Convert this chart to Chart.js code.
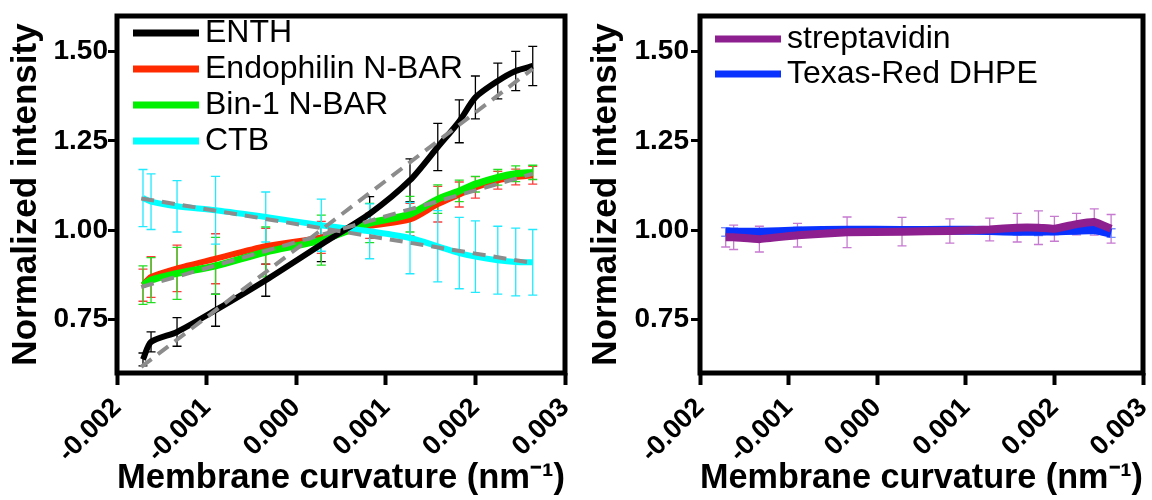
<!DOCTYPE html>
<html>
<head>
<meta charset="utf-8">
<script src="https://cdn.jsdelivr.net/npm/chart.js@4.4.0/dist/chart.umd.min.js"></script>
<style>
  body { margin: 0; background: #fff; }
  .row { display: flex; width: 1152px; height: 500px; }
  canvas { display: block; }
</style>
</head>
<body>
<div class="row">
  <canvas id="left" width="576" height="500"></canvas>
  <canvas id="right" width="576" height="500"></canvas>
</div>
<script>
// membrane curvature (nm^-1) of each measured bin
const curvature = [-0.00171, -0.00162, -0.00133, -0.00090, -0.00034, 0.00028, 0.00082,
  0.00127, 0.00158, 0.00182, 0.00200, 0.00225, 0.00245, 0.00264];

const enth = [0.638, 0.687, 0.715, 0.776, 0.860, 0.960, 1.046, 1.140, 1.233, 1.305, 1.372, 1.418, 1.446, 1.460];
const enthErr = [0.018, 0.028, 0.040, 0.045, 0.045, 0.048, 0.048, 0.060, 0.066, 0.060, 0.060, 0.050, 0.055, 0.055];

const endophilin = [0.846, 0.869, 0.893, 0.920, 0.955, 0.980, 1.012, 1.030, 1.073, 1.100, 1.120, 1.140, 1.149, 1.154];
const endophilinErr = [0.045, 0.057, 0.065, 0.070, 0.050, 0.045, 0.035, 0.045, 0.050, 0.035, 0.030, 0.025, 0.022, 0.025];

const bin1 = [0.846, 0.860, 0.879, 0.900, 0.939, 0.972, 1.020, 1.045, 1.087, 1.110, 1.129, 1.148, 1.158, 1.162];
const bin1Err = [0.054, 0.063, 0.073, 0.080, 0.070, 0.070, 0.055, 0.050, 0.040, 0.030, 0.022, 0.022, 0.022, 0.020];

const ctb = [1.090, 1.080, 1.067, 1.056, 1.037, 1.014, 0.997, 0.978, 0.955, 0.936, 0.926, 0.916, 0.911, 0.910];
const ctbErr = [0.080, 0.078, 0.072, 0.095, 0.070, 0.073, 0.077, 0.100, 0.100, 0.100, 0.100, 0.095, 0.095, 0.092];

const streptavidin = [0.980, 0.980, 0.975, 0.986, 0.994, 0.996, 0.998, 1.002, 1.007, 1.007, 1.004, 1.017, 1.023, 1.004];
const streptavidinErr = [0.027, 0.034, 0.036, 0.033, 0.043, 0.040, 0.034, 0.032, 0.040, 0.047, 0.035, 0.030, 0.037, 0.040];

const dhpe = [0.995, 0.994, 0.994, 0.998, 1.000, 0.999, 1.000, 0.999, 0.997, 0.997, 0.998, 1.000, 1.002, 0.992];
const dhpeErr = [0.012, 0.012, 0.010, 0.010, 0.010, 0.010, 0.008, 0.010, 0.010, 0.012, 0.010, 0.010, 0.012, 0.012];

// linear fits (end points)
const fitX = [-0.00173, 0.00264];
const enthFit = [0.617, 1.452];
const nbarFit = [0.841, 1.158];
const ctbFit = [1.089, 0.908];

const xTicks = [-0.002, -0.001, 0, 0.001, 0.002, 0.003];
const yTicks = [0.75, 1.0, 1.25, 1.5];

const FONT = "'Liberation Sans', Arial, sans-serif";

const pts = (xs, ys) => xs.map((x, i) => ({x, y: ys[i]}));

const series = (label, ys, err, color, errColor, width, order, tension) => ({
  label,
  data: pts(curvature, ys),
  errors: err,
  errorColor: errColor,
  borderColor: color,
  backgroundColor: color,
  borderWidth: width,
  tension,
  pointRadius: 0,
  order,
});

const fit = (ys) => ({
  label: 'fit',
  fit: true,
  data: pts(fitX, ys),
  borderColor: '#8c8c8c',
  borderWidth: 4,
  borderDash: [13, 8],
  pointRadius: 0,
  order: 0,
});

// thin error bars with caps, under the lines
const errorBars = {
  id: 'errorBars',
  beforeDatasetsDraw(chart) {
    const {ctx, scales: {x, y}} = chart;
    chart.data.datasets.forEach((ds) => {
      if (!ds.errors) return;
      ctx.save();
      ctx.strokeStyle = ds.errorColor;
      ctx.lineWidth = 1.3;
      ds.data.forEach((p, j) => {
        const px = x.getPixelForValue(p.x);
        const top = y.getPixelForValue(p.y + ds.errors[j]);
        const bot = y.getPixelForValue(p.y - ds.errors[j]);
        ctx.beginPath();
        ctx.moveTo(px, top); ctx.lineTo(px, bot);
        ctx.moveTo(px - 4.5, top); ctx.lineTo(px + 4.5, top);
        ctx.moveTo(px - 4.5, bot); ctx.lineTo(px + 4.5, bot);
        ctx.stroke();
      });
      ctx.restore();
    });
  },
};

// heavy box round the plot area
const frame = {
  id: 'frame',
  afterDatasetsDraw(chart) {
    const {ctx, chartArea: a} = chart;
    ctx.save();
    ctx.strokeStyle = '#000';
    ctx.lineWidth = 5;
    ctx.strokeRect(a.left, a.top, a.right - a.left, a.bottom - a.top);
    ctx.restore();
  },
};

// line-sample legend in the top left corner of the plot
const lineLegend = {
  id: 'lineLegend',
  afterDraw(chart, args, opts) {
    const {ctx, chartArea} = chart;
    const items = chart.data.datasets.filter((d) => !d.fit);
    ctx.save();
    ctx.font = `32px ${FONT}`;
    ctx.textBaseline = 'middle';
    items.forEach((d, i) => {
      const x0 = chartArea.left + opts.left;
      const cy = chartArea.top + opts.top + i * opts.gap;
      ctx.fillStyle = d.borderColor;
      ctx.fillRect(x0, cy - 3.5, 66, 7);
      ctx.fillStyle = '#000';
      ctx.fillText(d.label, x0 + 72, cy);
    });
    ctx.restore();
  },
};

const scales = (yWidth, yTitlePad, yTickPad) => ({
  x: {
    type: 'linear',
    min: -0.002,
    max: 0.003,
    afterBuildTicks: (s) => {
      s.ticks = xTicks.map((v) => ({value: v}));
    },
    afterFit: (s) => {
      s.height = 127;
      s.paddingLeft = 0;
      s.paddingRight = 0;
    },
    ticks: {
      font: {family: FONT, size: 27, weight: 'bold'},
      color: '#000',
      minRotation: 45,
      maxRotation: 45,
      padding: 7,
      callback: (v) => Number(v).toFixed(3),
    },
    grid: {drawOnChartArea: false, tickLength: 12, tickWidth: 4, tickColor: '#000'},
    border: {display: false},
    title: {
      display: true,
      text: 'Membrane curvature (nm⁻¹)',
      font: {family: FONT, size: 35, weight: 'bold'},
      color: '#000',
      padding: {top: 0, bottom: 1},
    },
  },
  y: {
    min: 0.6,
    max: 1.6,
    afterBuildTicks: (s) => {
      s.ticks = yTicks.map((v) => ({value: v}));
    },
    afterFit: (s) => {
      s.width = yWidth;
      s.paddingTop = 0;
      s.paddingBottom = 0;
    },
    ticks: {
      font: {family: FONT, size: 28, weight: 'bold'},
      color: '#000',
      padding: yTickPad,
      callback: (v) => Number(v).toFixed(2),
    },
    grid: {drawOnChartArea: false, tickLength: 9, tickWidth: 3, tickColor: '#000'},
    border: {display: false},
    title: {
      display: true,
      text: 'Normalized intensity',
      font: {family: FONT, size: 35, weight: 'bold'},
      color: '#000',
      padding: {top: yTitlePad, bottom: 0},
    },
  },
});

const common = {
  responsive: false,
  animation: false,
  events: [],
  plugins: {
    legend: {display: false},
    tooltip: {enabled: false},
  },
};

new Chart(document.getElementById('left'), {
  type: 'line',
  data: {
    datasets: [
      series('ENTH', enth, enthErr, '#000000', '#000000', 6, 1, 0.25),
      series('Endophilin N-BAR', endophilin, endophilinErr, '#ff2a00', '#ff3c3c', 6, 4, 0.25),
      series('Bin-1 N-BAR', bin1, bin1Err, '#00f000', '#22dd22', 7, 3, 0.25),
      series('CTB', ctb, ctbErr, '#00ffff', '#20eaff', 6, 2, 0.25),
      fit(enthFit),
      fit(nbarFit),
      fit(ctbFit),
    ],
  },
  options: {
    ...common,
    layout: {padding: {top: 16, right: 11, left: 0, bottom: 0}},
    scales: scales(117, 5, 0),
    plugins: {...common.plugins, lineLegend: {left: 16, top: 17, gap: 36}},
  },
  plugins: [errorBars, frame, lineLegend],
});

new Chart(document.getElementById('right'), {
  type: 'line',
  data: {
    datasets: [
      series('streptavidin', streptavidin, streptavidinErr, '#8e1f8e', '#c67ad0', 8, 1, 0.1),
      series('Texas-Red DHPE', dhpe, dhpeErr, '#0a32ff', '#7890ff', 9, 2, 0.1),
    ],
  },
  options: {
    ...common,
    layout: {padding: {top: 16, right: 9, left: 0, bottom: 0}},
    scales: scales(124, 9, 2),
    plugins: {...common.plugins, lineLegend: {left: 15, top: 23, gap: 35}},
  },
  plugins: [errorBars, frame, lineLegend],
});
</script>
</body>
</html>
